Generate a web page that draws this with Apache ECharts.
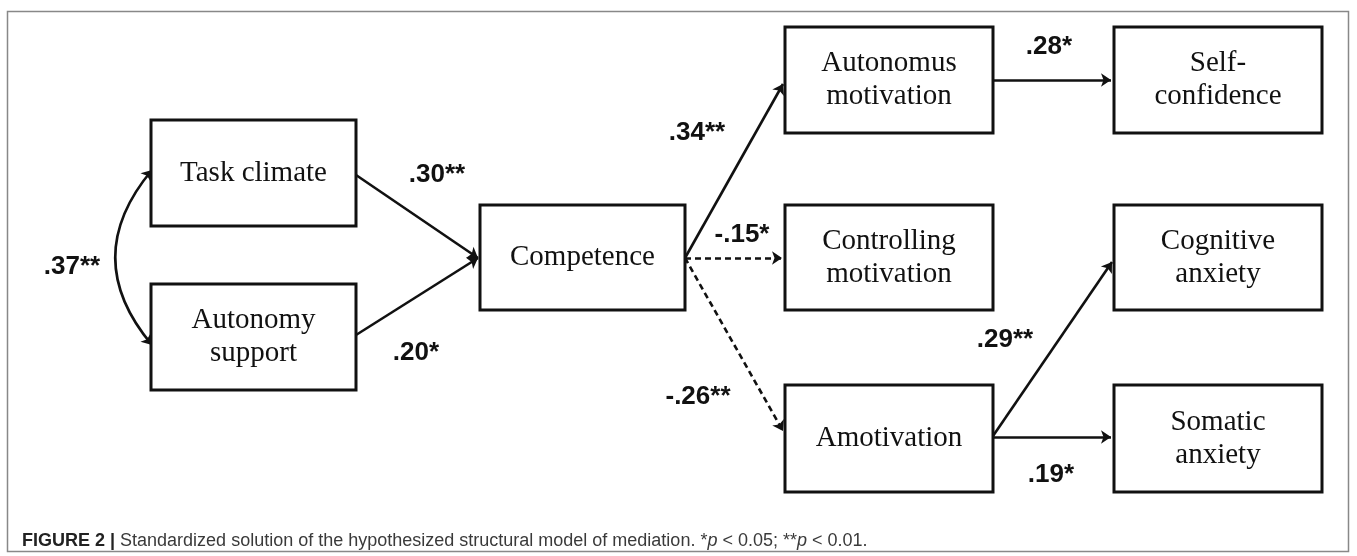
<!DOCTYPE html>
<head>
    <meta charset="utf-8">
    <title>ECharts</title>
    <style>
        html, body { margin: 0; padding: 0; background: #fff; }
        #main { width: 1357px; height: 556px; }
    </style>
</head>
<body>
<div id="main"></div>
<script src="https://cdn.jsdelivr.net/npm/echarts@6/dist/echarts.min.js"></script>
<script type="text/javascript">
    // variables of the model
    var boxNames = ['Task climate', 'Autonomy\nsupport', 'Competence',
        'Autonomus\nmotivation', 'Controlling\nmotivation', 'Amotivation',
        'Self-\nconfidence', 'Cognitive\nanxiety', 'Somatic\nanxiety'];
    // paths (index into boxNames)
    var pathFrom = [0, 0, 1, 2, 2, 2, 3, 5, 5];
    var pathTo   = [1, 2, 2, 3, 4, 5, 6, 7, 8];
    var pathCoef = [0.37, 0.30, 0.20, 0.34, -0.15, -0.26, 0.28, 0.29, 0.19];
    var pathSig  = ['**', '**', '*', '**', '*', '**', '*', '**', '*'];
    var caption = 'Standardized solution of the hypothesized structural model of mediation. ';

    // layout (pixels)
    var boxPos = [[253.5, 173], [253.5, 337], [582.5, 257.5], [889, 80], [889, 257.5],
        [889, 438.5], [1218, 80], [1218, 257.5], [1218, 438.5]];
    var boxSize = [[205, 106], [205, 106], [205, 105], [208, 106], [208, 105],
        [208, 107], [208, 106], [208, 105], [208, 107]];
    var pathEnds = [
        [[152, 170], [152, 345]],
        [[356, 175], [478, 258]],
        [[356, 335], [478, 258]],
        [[685, 258], [783, 84]],
        [[685, 258], [782, 258]],
        [[685, 258], [783, 431]],
        [[993, 80], [1111, 80]],
        [[993, 436], [1112, 262]],
        [[993, 437], [1111, 437]]
    ];
    var labelPos = [[72, 267], [437, 175], [416, 353], [697, 133], [742, 235],
        [698, 397], [1049, 47], [1005, 340], [1051, 475]];

    function fmt(v) {
        return (v < 0 ? '-' : '') + Math.abs(v).toFixed(2).slice(1);
    }

    var lineData = pathCoef.map(function (v, i) {
        var corr = i === 0;
        return {
            coords: pathEnds[i],
            symbol: corr ? ['arrow', 'arrow'] : ['none', 'arrow'],
            lineStyle: {
                type: v < 0 ? [6, 4] : 'solid',
                curveness: corr ? -0.42 : 0
            }
        };
    });

    var chart = echarts.init(document.getElementById('main'));
    chart.setOption({
        backgroundColor: '#fff',
        animation: false,
        title: {
            left: 17,
            top: 527,
            text: '{b|FIGURE 2 |} {n|' + caption + '*}{i|p}{n| < 0.05; **}{i|p}{n| < 0.01.}',
            textStyle: {
                fontWeight: 'normal',
                rich: {
                    b: { fontFamily: 'Liberation Sans', fontWeight: 'bold', fontSize: 18, color: '#222' },
                    n: { fontFamily: 'Liberation Sans', fontWeight: 'normal', fontSize: 18, color: '#3a3a3a' },
                    i: { fontFamily: 'Liberation Sans', fontWeight: 'normal', fontStyle: 'italic', fontSize: 18, color: '#3a3a3a' }
                }
            }
        },
        graphic: [{
            type: 'rect',
            shape: { x: 7.5, y: 11.5, width: 1341, height: 540 },
            style: { fill: 'none', stroke: '#888', lineWidth: 1.5 },
            silent: true
        }],
        grid: { left: 0, right: 0, top: 0, bottom: 0 },
        xAxis: { type: 'value', min: 0, max: 1357, show: false },
        yAxis: { type: 'value', min: 0, max: 556, inverse: true, show: false },
        series: [
            {
                type: 'lines',
                coordinateSystem: 'cartesian2d',
                z: 2,
                symbolSize: 10,
                lineStyle: { color: '#111', width: 2.6, opacity: 1 },
                data: lineData
            },
            {
                type: 'custom',
                z: 3,
                data: boxNames.map(function (n, i) {
                    return [boxPos[i][0], boxPos[i][1], boxSize[i][0], boxSize[i][1], n];
                }),
                renderItem: function (params, api) {
                    var c = api.coord([api.value(0), api.value(1)]);
                    var w = api.value(2), h = api.value(3);
                    return {
                        type: 'group',
                        children: [{
                            type: 'rect',
                            shape: { x: c[0] - w / 2, y: c[1] - h / 2, width: w, height: h },
                            style: { fill: '#fff', stroke: '#111', lineWidth: 3 }
                        }, {
                            type: 'text',
                            x: c[0],
                            y: c[1],
                            style: {
                                text: boxNames[params.dataIndex],
                                align: 'center',
                                verticalAlign: 'middle',
                                fontFamily: 'Liberation Serif',
                                fontSize: 29,
                                lineHeight: 33,
                                fill: '#111'
                            }
                        }]
                    };
                }
            },
            {
                type: 'scatter',
                z: 4,
                symbolSize: 0,
                itemStyle: { opacity: 1 },
                data: pathCoef.map(function (v, i) {
                    return { value: labelPos[i], name: fmt(v) + pathSig[i] };
                }),
                label: {
                    show: true,
                    position: 'inside',
                    formatter: '{b}',
                    fontFamily: 'Liberation Sans',
                    fontWeight: 'bold',
                    fontSize: 26,
                    color: '#111'
                }
            }
        ]
    });
</script>
</body>
